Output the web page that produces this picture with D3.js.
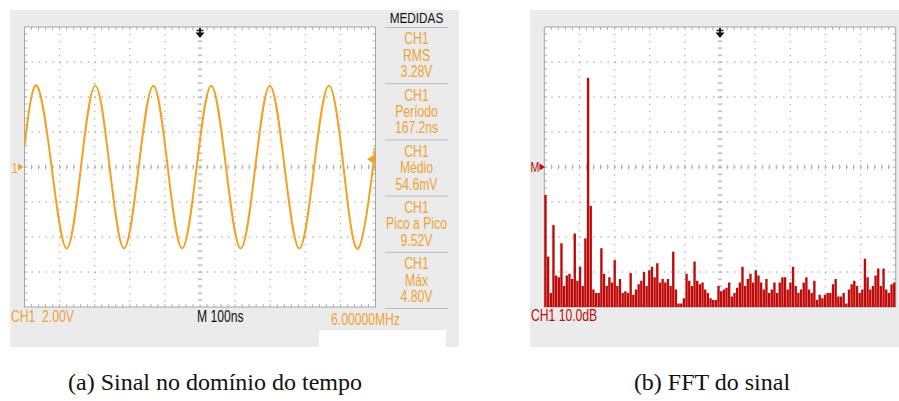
<!DOCTYPE html>
<html><head><meta charset="utf-8">
<script src="https://cdn.jsdelivr.net/npm/d3@7"></script>
<style>body{margin:0;background:#fff}svg{display:block}</style>
</head><body>
<svg id="c" width="899" height="401"></svg>
<script>
// ---- Time-domain trace (ns, V) ----
const timeNs = [0, 34.8, 77.4, 120, 160.9, 201.7, 242.6, 283.5, 325.3, 367, 408, 449, 490.5, 532, 574, 616, 657.5, 699, 741, 783, 825, 867, 909, 951, 993, 1000];
const voltV  = [1.2, 4.65, 0, -4.65, 0, 4.65, 0, -4.65, 0, 4.65, 0, -4.65, 0, 4.65, 0, -4.65, 0, 4.65, 0, -4.65, 0, 4.65, 0, -4.65, 0, 0.6];

// ---- Measurements panel ----
const measTitle = "MEDIDAS";
const measNames = ["RMS", "Período", "Médio", "Pico a Pico", "Máx"];
const measValues = ["3.28V", "167.2ns", "54.6mV", "9.52V", "4.80V"];
const scopeLabels = {ch: "CH1  2.00V", time: "M 100ns", freq: "6.00000MHz", fft: "CH1 10.0dB"};
const captions = ["(a) Sinal no domínio do tempo", "(b) FFT do sinal"];

// ---- FFT magnitudes (dB relative to marker M), bins across 0–50 MHz ----
const fftDb = [-8, -25.6, -36, -16.6, -31, -31.5, -21.8, -34, -31, -30.5, -32, -19, -32.5, -28.5, -34, -20.4,
  25.5, -11.1, -35, -36, -36, -23.2, -30.5, -34, -31.5, -33, -26.6, -34, -32, -36, -35.5, -36,
  -30.3, -36.5, -35, -33.5, -32.5, -30, -34, -29.5, -28.5, -31.5, -27.5, -33, -32, -33, -32, -34,
  -24.2, -35, -39, -39, -37.5, -30.5, -32.5, -34, -27, -32.5, -33.5, -33, -35, -36, -37.5, -38,
  -38, -34, -35.5, -35, -34.5, -33, -37, -36, -34.5, -33, -28.5, -34, -32, -30.5, -33, -29.5,
  -31, -33, -35, -32, -36, -35, -33, -36, -33, -31.5, -31.5, -35, -33, -28.5, -34, -36,
  -35, -33, -31.5, -35, -36, -32.5, -38, -36.5, -37.5, -36.5, -36, -36, -33.5, -32, -37, -37,
  -36, -39, -35, -33.5, -32.5, -34, -36, -35, -26.2, -31.5, -35, -34, -31, -29, -34, -29,
  -35, -36, -33.5, -33];
const fftSpanMHz = 50;

const ORANGE = "#f2a223", TXT_OR = "#eea234", RED = "#bf0a0a", GRID = "#b0b0b0", FRAME = "#a6a6a6", BG = "#ebebeb";
const svg = d3.select("#c");
const FONT = "'Liberation Sans',Arial,sans-serif";
const SX = 0.76;

function txt(g, x, y, s, opt = {}) {
  const size = opt.size || 16, anchor = opt.anchor || "start";
  return g.append("text")
    .attr("transform", `translate(${x},${y}) scale(${SX},1)`)
    .attr("text-anchor", anchor).attr("font-family", FONT).attr("font-size", size)
    .attr("fill", opt.fill || "#111").style("white-space", "pre").text(s);
}

// backgrounds
svg.append("rect").attr("x", 10).attr("y", 10).attr("width", 449).attr("height", 337).attr("fill", BG);
svg.append("rect").attr("x", 319).attr("y", 330).attr("width", 127).attr("height", 17).attr("fill", "#fff");
svg.append("rect").attr("x", 530).attr("y", 10).attr("width", 369).attr("height", 337).attr("fill", BG);

function scopeGrid(g, x, y) {
  const [x0, x1] = x.range(), [y0, y1] = y.range(); // y0 bottom
  const xt = x.ticks(10), yt = y.ticks(8);
  const dx = (x1 - x0) / 50, dy = (y0 - y1) / 40;
  const cx = (x0 + x1) / 2, cy = (y0 + y1) / 2;
  g.append("rect").attr("x", x0).attr("y", y1).attr("width", x1 - x0).attr("height", y0 - y1).attr("fill", "#fff");
  const gg = g.append("g");
  xt.slice(1, -1).forEach(t => {
    gg.append("line").attr("x1", x(t)).attr("x2", x(t)).attr("y1", y1).attr("y2", y0)
      .attr("stroke", GRID).attr("stroke-width", 1.3).attr("stroke-dasharray", `1.3,${dy - 1.3}`);
  });
  yt.slice(1, -1).forEach(t => {
    gg.append("line").attr("x1", x0).attr("x2", x1).attr("y1", y(t)).attr("y2", y(t))
      .attr("stroke", GRID).attr("stroke-width", 1.3).attr("stroke-dasharray", `1.3,${dx - 1.3}`);
  });
  for (let i = 1; i < 40; i++) {
    const yy = y0 - i * dy;
    gg.append("line").attr("x1", cx - 2.5).attr("x2", cx + 2.5).attr("y1", yy).attr("y2", yy).attr("stroke", GRID);
    gg.append("line").attr("x1", x0).attr("x2", x0 + 3).attr("y1", yy).attr("y2", yy).attr("stroke", GRID);
    gg.append("line").attr("x1", x1 - 3).attr("x2", x1).attr("y1", yy).attr("y2", yy).attr("stroke", GRID);
  }
  for (let i = 1; i < 50; i++) {
    const xx = x0 + i * dx;
    gg.append("line").attr("x1", xx).attr("x2", xx).attr("y1", cy - 2.5).attr("y2", cy + 2.5).attr("stroke", GRID);
    gg.append("line").attr("x1", xx).attr("x2", xx).attr("y1", y1).attr("y2", y1 + 3).attr("stroke", GRID);
    gg.append("line").attr("x1", xx).attr("x2", xx).attr("y1", y0 - 3).attr("y2", y0).attr("stroke", GRID);
  }
  g.append("rect").attr("x", x0).attr("y", y1).attr("width", x1 - x0).attr("height", y0 - y1)
    .attr("fill", "none").attr("stroke", FRAME).attr("stroke-width", 1);
  // trigger position arrow
  g.append("line").attr("x1", cx).attr("x2", cx).attr("y1", y1 + 1).attr("y2", y1 + 7).attr("stroke", "#111").attr("stroke-width", 1.8);
  g.append("line").attr("x1", cx - 3.5).attr("x2", cx + 3.5).attr("y1", y1 + 3.5).attr("y2", y1 + 3.5).attr("stroke", "#111").attr("stroke-width", 1.4);
  g.append("path").attr("d", `M${cx - 4.5},${y1 + 5.5}L${cx + 4.5},${y1 + 5.5}L${cx},${y1 + 11}Z`).attr("fill", "#111");
}

// ---------- LEFT: time domain ----------
const xT = d3.scaleLinear().domain([0, 1000]).range([24.5, 375.5]);
const yV = d3.scaleLinear().domain([-8, 8]).range([307, 27]);
const gL = svg.append("g");
scopeGrid(gL, xT, yV);
svg.append("clipPath").attr("id", "clipL").append("rect").attr("x", 24.5).attr("y", 27).attr("width", 351).attr("height", 280);
const pts = timeNs.map((t, i) => [t, voltV[i]]);
gL.append("path").attr("clip-path", "url(#clipL)")
  .attr("d", d3.line().x(d => xT(d[0])).y(d => yV(d[1])).curve(d3.curveNatural)(pts))
  .attr("fill", "none").attr("stroke", ORANGE).attr("stroke-width", 2);
// channel marker "1▸"
txt(gL, 11.5, yV(0) + 5.5, "1", {size: 15, fill: TXT_OR});
gL.append("path").attr("d", `M18,${yV(0) - 3.5}L23.5,${yV(0)}L18,${yV(0) + 3.5}Z`).attr("fill", TXT_OR);
// trigger level marker on right
gL.append("path").attr("d", `M367,${yV(0.45)}L373,${yV(0.45) - 4}L373,${yV(0.45) + 4}Z`).attr("fill", ORANGE);
gL.append("line").attr("x1", 374).attr("x2", 374).attr("y1", yV(1.1)).attr("y2", yV(-0.2)).attr("stroke", ORANGE).attr("stroke-width", 1.2);

// bottom labels
txt(gL, 11, 321.5, scopeLabels.ch, {fill: TXT_OR});
txt(gL, 197, 321.5, scopeLabels.time, {fill: "#111"});
txt(gL, 331, 325, scopeLabels.freq, {fill: TXT_OR});

// measurements panel
const mx = 416.5;
txt(gL, mx, 22.7, measTitle, {anchor: "middle", fill: "#111", size: 15.5});
const blockH = (308 - 27) / 5;
gL.append("line").attr("x1", 385).attr("x2", 448).attr("y1", 27.5).attr("y2", 27.5).attr("stroke", "#b9b9b9");
measNames.forEach((n, k) => {
  const top = 27 + k * blockH;
  ["CH1", n, measValues[k]].forEach((s, j) => {
    txt(gL, mx, top + 17.3 + j * 16.4, s, {anchor: "middle", fill: TXT_OR});
  });
  gL.append("line").attr("x1", 385).attr("x2", 448).attr("y1", top + blockH + 0.5).attr("y2", top + blockH + 0.5).attr("stroke", "#b9b9b9");
});

// ---------- RIGHT: FFT ----------
const xF = d3.scaleLinear().domain([0, fftSpanMHz]).range([544.3, 895.7]);
const yDb = d3.scaleLinear().domain([-40, 40]).range([307, 27]);
const gR = svg.append("g");
scopeGrid(gR, xF, yDb);
const binW = fftSpanMHz / fftDb.length;
gR.append("g").selectAll("rect").data(fftDb).join("rect")
  .attr("x", (d, i) => xF(i * binW))
  .attr("width", Math.max(0.5, xF(binW) - xF(0) - 0.3))
  .attr("y", d => yDb(d))
  .attr("height", d => yDb(-40) - yDb(d))
  .attr("fill", RED);
txt(gR, 530.5, yDb(0) + 5, "M", {size: 14, fill: RED});
gR.append("path").attr("d", `M539.5,${yDb(0) - 3.5}L545,${yDb(0)}L539.5,${yDb(0) + 3.5}Z`).attr("fill", RED);
txt(gR, 531, 320.7, scopeLabels.fft, {fill: RED});

// captions
const SERIF = "'Liberation Serif','Times New Roman',serif";
svg.append("text").attr("x", 215).attr("y", 390).attr("text-anchor", "middle").attr("font-family", SERIF).attr("font-size", 24).attr("fill", "#111").text(captions[0]);
svg.append("text").attr("x", 712).attr("y", 390).attr("text-anchor", "middle").attr("font-family", SERIF).attr("font-size", 24).attr("fill", "#111").text(captions[1]);
</script>
</body></html>
